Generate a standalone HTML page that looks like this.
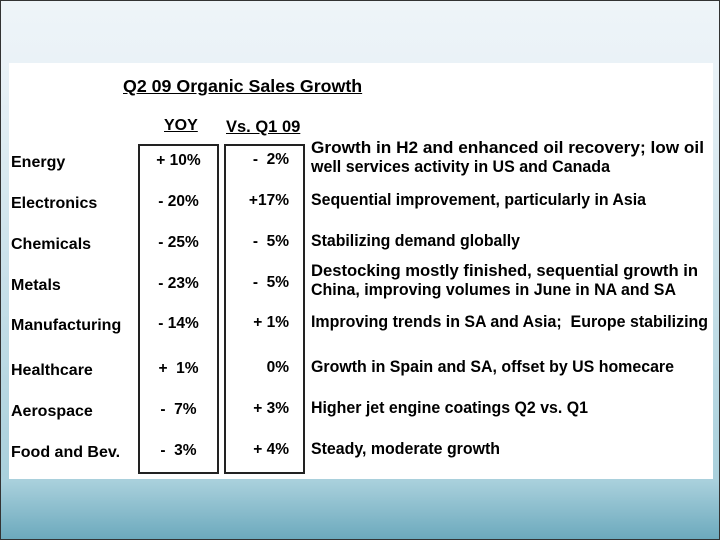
<!DOCTYPE html>
<html><head><meta charset="utf-8"><style>
body{margin:0}
#slide{position:relative;width:720px;height:540px;overflow:hidden;background:linear-gradient(180deg,#eef4f8 0,#eaf2f7 62px,#a9d0dc 480px,#6aa8bc 540px);box-sizing:border-box;border:1px solid #333;font-family:"Liberation Sans",Arial,sans-serif;font-weight:bold;color:#000}
#panel{position:absolute;left:8px;top:62px;width:704px;height:416px;background:#fff}
.t{position:absolute;white-space:nowrap;font-size:15.5px;line-height:17px}
.box{position:absolute;border:2px solid #222;top:143px;height:326px;width:77px}
.u{text-decoration:underline}
</style></head><body>
<div id="slide">
<div id="panel"></div>
<div class="t u" style="left:122px;top:77px;font-size:17.8px">Q2 09 Organic Sales Growth</div>
<div class="t u" style="left:163px;top:116px;font-size:16px">YOY</div>
<div class="t u" style="left:225px;top:118px;font-size:16.5px">Vs. Q1 09</div>
<div class="box" style="left:137px"></div>
<div class="box" style="left:223px"></div>
</div>
<script>
const segments=["Energy","Electronics","Chemicals","Metals","Manufacturing","Healthcare","Aerospace","Food and Bev."];
const yoy=["+ 10%","- 20%","- 25%","- 23%","- 14%","+  1%","-  7%","-  3%"];
const vsq1=["-  2%","+17%","-  5%","-  5%","+ 1%","0%","+ 3%","+ 4%"];
const notes=[["Growth in H2 and enhanced oil recovery; low oil","well services activity in US and Canada"],["Sequential improvement, particularly in Asia"],["Stabilizing demand globally"],["Destocking mostly finished, sequential growth in","China, improving volumes in June in NA and SA"],["Improving trends in SA and Asia;  Europe stabilizing"],["Growth in Spain and SA, offset by US homecare"],["Higher jet engine coatings Q2 vs. Q1"],["Steady, moderate growth"]];
const rowY=[162,203,244,285,325,370,411,452];
const lineEnds=[[703,609],[645],[519],[697,675],[707],[673],[587],[499]];
const slide=document.getElementById('slide');
function mk(txt,left,top,extra){const d=document.createElement('div');d.className='t';d.textContent=txt;d.style.left=left+'px';d.style.top=top+'px';d.style.whiteSpace='pre';if(extra)d.style.cssText+=extra;slide.appendChild(d);return d;}
segments.forEach((s,i)=>{
 const y=rowY[i];
 const a=mk(s,10,y-9,'font-size:16px;');
 
 
 const b=mk(yoy[i],137,y-11,'width:81px;text-align:center;');
 
 
 const c=mk(vsq1[i],208,y-12,'width:80px;text-align:right;');
 
 
 const n=notes[i];
 const top=n.length>1?y-23:y-12;
 n.forEach((line,k)=>{
  const e=mk(line,310,top+k*19,'font-size:16.5px;transform-origin:0 50%;');
  
  
  const w=e.getBoundingClientRect().width;
  const target=lineEnds[i][k]-310;
  if(w>0)e.style.transform='scaleX('+(target/w)+')';
 });
});
</script>
</body></html>
